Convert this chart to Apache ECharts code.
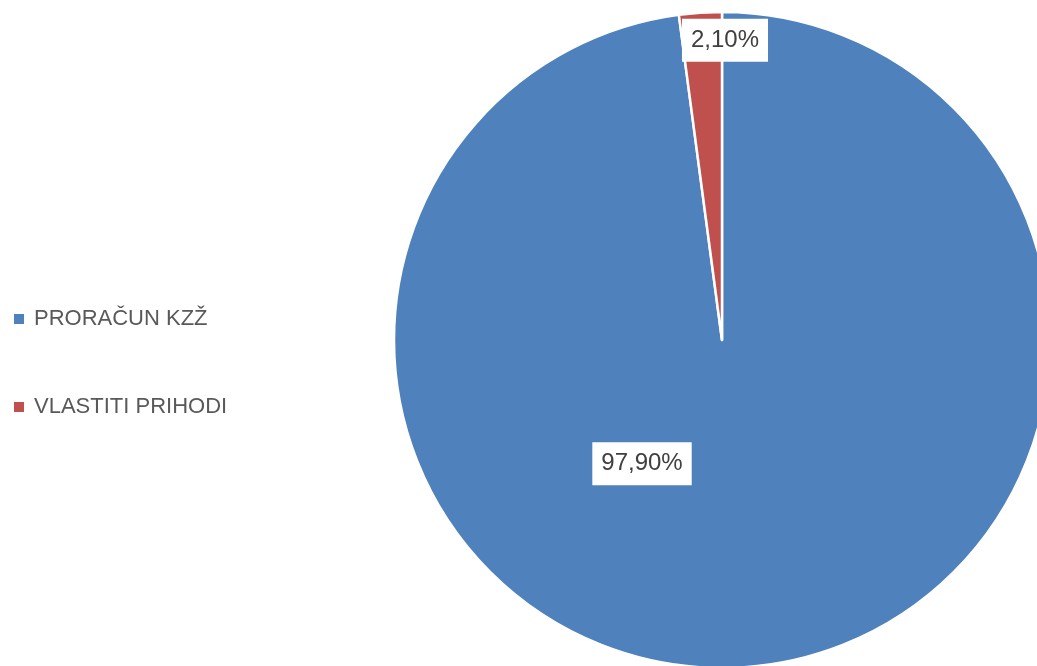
<!DOCTYPE html>
<html>
<head>
<meta charset="utf-8">
<script src="https://cdn.jsdelivr.net/npm/echarts@6/dist/echarts.min.js"></script>
<style>
html,body{margin:0;padding:0;background:#fff;}
#chart{width:1037px;height:666px;}
</style>
</head>
<body>
<div id="chart"></div>
<script>
var categories = ['PRORAČUN KZŽ', 'VLASTITI PRIHODI'];
var values = [97.9, 2.1];
var colors = ['#4F81BD', '#C0504D'];
var labelShift = [[-91, -43], [14, -133]];

var chart = echarts.init(document.getElementById('chart'), null, {renderer: 'canvas'});
var fontFam = '"Liberation Sans", Arial, sans-serif';
chart.setOption({
  animation: false,
  backgroundColor: '#ffffff',
  legend: {
    orient: 'vertical',
    left: 14,
    top: 307,
    padding: 0,
    itemWidth: 10,
    itemHeight: 10,
    itemGap: 64,
    icon: 'rect',
    itemStyle: {borderWidth: 0},
    textStyle: {fontFamily: fontFam, fontSize: 22, color: '#595959', lineHeight: 24, padding: [0,0,0,5]},
    data: categories
  },
  series: [{
    type: 'pie',
    center: [722, 340],
    radius: 328,
    startAngle: 90,
    clockwise: true,
    avoidLabelOverlap: false,
    itemStyle: {borderColor: '#ffffff', borderWidth: 2.5},
    label: {
      show: true,
      position: 'inside',
      fontFamily: fontFam,
      fontSize: 24,
      lineHeight: 25,
      color: '#404040',
      backgroundColor: '#ffffff',
      padding: [9, 9],
      formatter: function (p) { return p.value.toFixed(2).replace('.', ',') + '%'; }
    },
    labelLine: {show: false},
    emphasis: {disabled: true},
    labelLayout: function (p) {
      var s = labelShift[p.dataIndex];
      return {dx: s[0], dy: s[1]};
    },
    data: categories.map(function (c, i) {
      return {name: c, value: values[i], itemStyle: {color: colors[i]}};
    })
  }]
});
</script>
</body>
</html>
